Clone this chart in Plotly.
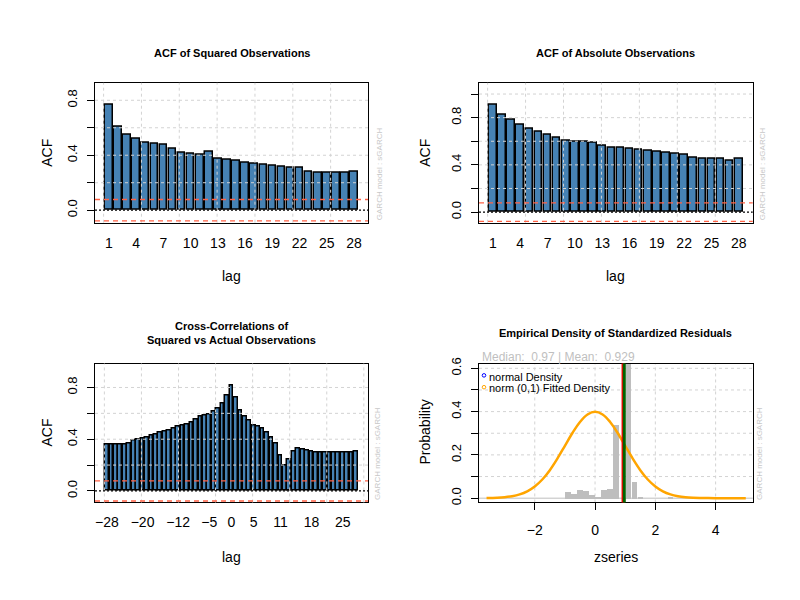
import plotly.graph_objects as go

# ---------------- data ----------------
lags = list(range(1, 29))
acf_sq = [0.764, 0.609, 0.549, 0.520, 0.492, 0.485, 0.477, 0.449, 0.420, 0.413,
          0.406, 0.427, 0.377, 0.363, 0.356, 0.348, 0.337, 0.329, 0.322, 0.315,
          0.308, 0.305, 0.277, 0.272, 0.272, 0.272, 0.272, 0.279]
acf_abs = [0.907, 0.823, 0.781, 0.739, 0.705, 0.680, 0.657, 0.629, 0.607, 0.598,
           0.598, 0.587, 0.565, 0.545, 0.545, 0.537, 0.528, 0.520, 0.511, 0.503,
           0.494, 0.489, 0.463, 0.455, 0.455, 0.447, 0.438, 0.447]
acf_ticks = [1, 4, 7, 10, 13, 16, 19, 22, 25, 28]

ccf_lags = list(range(-28, 29))
ccf_vals = [0.355, 0.355, 0.355, 0.362, 0.362, 0.370, 0.392, 0.400, 0.408, 0.415,
            0.430, 0.438, 0.453, 0.460, 0.468, 0.483, 0.498, 0.506, 0.513, 0.528,
            0.551, 0.574, 0.581, 0.589, 0.611, 0.634, 0.672, 0.740,
            0.815,
            0.725, 0.622, 0.577, 0.541, 0.508, 0.500, 0.483, 0.450, 0.409, 0.363,
            0.274, 0.193, 0.246, 0.302, 0.328, 0.320, 0.312, 0.302,
            0.295, 0.295, 0.295, 0.295, 0.295, 0.295, 0.295, 0.295, 0.295, 0.307]
ccf_ticks = [-28, -20, -12, -5, 0, 5, 11, 18, 25]
ci = 0.078

hist_mid = [-0.9, -0.7, -0.5, -0.3, -0.1, 0.1, 0.3, 0.5, 0.7, 0.9, 1.1, 1.3, 1.5, 2.5]
hist_dens = [0.031, 0.021, 0.040, 0.035, 0.017, 0.008, 0.040, 0.044, 0.342, 0.0,
             0.700, 0.078, 0.008, 0.004]
dens_x = [-3.6, -3.25, -3.0, -2.75, -2.5, -2.25, -2.0, -1.75, -1.5, -1.25, -1.0,
          -0.75, -0.5, -0.25, 0.0, 0.25, 0.5, 0.75, 1.0, 1.25, 1.5, 1.75, 2.0,
          2.25, 2.5, 2.75, 3.0, 3.25, 3.5, 3.75, 4.0, 4.25, 4.5, 4.75, 5.0]
dens_y = [0.0006, 0.0020, 0.0044, 0.0091, 0.0175, 0.0317, 0.0540, 0.0863, 0.1295,
          0.1827, 0.2420, 0.3011, 0.3521, 0.3867, 0.3989, 0.3867, 0.3521, 0.3011,
          0.2420, 0.1827, 0.1295, 0.0863, 0.0540, 0.0317, 0.0175, 0.0091, 0.0044,
          0.0020, 0.0009, 0.0004, 0.0001, 0.0001, 0.0, 0.0, 0.0]
median_val = 0.97
mean_val = 0.929

# ---------------- layout helpers ----------------
FONT = "Liberation Sans, Arial, sans-serif"
W, H = 800, 600


def px(x):
    return x / W


def py(y):
    return 1 - y / H


def dx(a, b):
    return [px(a), px(b)]


def dy(top, bottom):
    return [py(bottom), py(top)]


P = {
    1: dict(x=(95, 368), y=(78, 220)),
    2: dict(x=(479, 752.7), y=(78, 220)),
    3: dict(x=(95, 368), y=(363, 504)),
    4: dict(x=(479, 752.7), y=(363, 504)),
}

fig = go.Figure()

BAR = dict(color="#4682B4", line=dict(color="black", width=1.5))
bw = 1 / 1.2

fig.add_trace(go.Bar(x=lags, y=acf_sq, width=bw, marker=BAR, xaxis="x", yaxis="y", showlegend=False))
fig.add_trace(go.Bar(x=lags, y=acf_abs, width=bw, marker=BAR, xaxis="x2", yaxis="y2", showlegend=False))
fig.add_trace(go.Bar(x=ccf_lags, y=ccf_vals, width=bw, marker=BAR, xaxis="x3", yaxis="y3", showlegend=False))
fig.add_trace(go.Bar(x=hist_mid, y=hist_dens, width=0.18, marker=dict(color="#BEBEBE", line=dict(width=0)),
                     xaxis="x4", yaxis="y4", showlegend=False))
fig.add_trace(go.Scatter(x=dens_x, y=dens_y, mode="lines", line=dict(color="#FFA500", width=2.5, shape="spline"),
                         xaxis="x4", yaxis="y4", showlegend=False))

shapes = []
GRID = dict(color="#D3D3D3", width=1, dash="3px,3px")


def hline(k, yv, line, layer="above"):
    sx = "" if k == 1 else str(k)
    shapes.append(dict(type="line", xref=f"x{sx} domain", yref=f"y{sx}", x0=0, x1=1, y0=yv, y1=yv,
                       line=line, layer=layer))


def vline(k, xv, line, layer="above"):
    sx = "" if k == 1 else str(k)
    shapes.append(dict(type="line", xref=f"x{sx}", yref=f"y{sx} domain", x0=xv, x1=xv, y0=0, y1=1,
                       line=line, layer=layer))


# grids for ACF panels (barplot coordinates 0,5,10,... mapped to lag units)
acf_grid_x = [(b - 0.7) / 1.2 + 1 for b in range(0, 35, 5)]
ccf_grid_x = [(b - 0.7) / 1.2 - 28 for b in range(0, 75, 10)]
for k, gx, gy in [(1, acf_grid_x, [0.2, 0.4, 0.6, 0.8]),
                  (2, acf_grid_x, [0.2, 0.4, 0.6, 0.8, 1.0]),
                  (3, ccf_grid_x, [0.2, 0.4, 0.6, 0.8])]:
    for v in gx:
        vline(k, v, GRID)
    for v in gy:
        hline(k, v, GRID)
    hline(k, ci, dict(color="#FF6347", width=1.3, dash="5px,4px"))
    hline(k, -ci, dict(color="#FF6347", width=1.3, dash="5px,4px"))
    hline(k, 0, dict(color="black", width=1.3, dash="2px,2px"))

# panel 4 grid (below) + baseline + median/mean lines
for v in [-2, 0, 2, 4]:
    vline(4, v, GRID, layer="below")
for v in [0.1, 0.2, 0.3, 0.4, 0.5, 0.6]:
    hline(4, v, GRID, layer="below")
hline(4, 0, dict(color="#BEBEBE", width=1), layer="below")
vline(4, mean_val, dict(color="red", width=3))
vline(4, median_val, dict(color="#006400", width=3))

# legend circles in panel 4
for cy, col in [(375, "blue"), (387, "orange")]:
    shapes.append(dict(type="circle", xref="paper", yref="paper",
                       x0=px(482.2), x1=px(485.8), y0=py(cy + 1.8), y1=py(cy - 1.8),
                       line=dict(color=col, width=1)))

# ---------------- axes ----------------
def xaxis(k, rng, tickvals, ticktext=None, ticks=""):
    d = dict(domain=dx(*P[k]["x"]), range=rng, anchor="y" if k == 1 else f"y{k}",
             showline=True, linecolor="black", linewidth=1, mirror=True,
             showgrid=False, zeroline=False, tickvals=tickvals,
             tickfont=dict(size=14, color="black", family=FONT), fixedrange=True)
    if ticktext is not None:
        d["ticktext"] = ticktext
    if ticks:
        d.update(ticks="outside", ticklen=7, tickwidth=1, tickcolor="black", ticklabelstandoff=8)
    else:
        d.update(ticks="", ticklabelstandoff=7)
    return d


def yaxis(k, rng, tickvals, ticktext):
    return dict(domain=dy(*P[k]["y"]), range=rng, anchor="x" if k == 1 else f"x{k}",
                showline=True, linecolor="black", linewidth=1, mirror=True,
                showgrid=False, zeroline=False, tickvals=tickvals, ticktext=ticktext,
                ticks="outside", ticklen=7, tickwidth=1, tickcolor="black", tickangle=-90,
                ticklabelstandoff=5,
                tickfont=dict(size=13, color="black", family=FONT), fixedrange=True)


acf_rng = [-0.53, 29.53]
ccf_rng = [-30.69, 30.69]
fig.update_layout(
    xaxis=xaxis(1, acf_rng, acf_ticks),
    yaxis=yaxis(1, [-0.091, 0.927], [0, 0.2, 0.4, 0.6, 0.8], ["0.0", "", "0.4", "", "0.8"]),
    xaxis2=xaxis(2, acf_rng, acf_ticks),
    yaxis2=yaxis(2, [-0.09, 1.095], [0, 0.2, 0.4, 0.6, 0.8, 1.0], ["0.0", "", "0.4", "", "0.8", ""]),
    xaxis3=xaxis(3, ccf_rng, ccf_ticks),
    yaxis3=yaxis(3, [-0.089, 0.985], [0, 0.2, 0.4, 0.6, 0.8], ["0.0", "", "0.4", "", "0.8"]),
    xaxis4=xaxis(4, [-3.85, 5.23], [-2, 0, 2, 4], ticks="outside"),
    yaxis4=yaxis(4, [-0.0197, 0.622], [0, 0.1, 0.2, 0.3, 0.4, 0.5, 0.6],
                 ["0.0", "", "0.2", "", "0.4", "", "0.6"]),
)

# ---------------- text ----------------
ann = []


def text(x, y, s, size=14, bold=False, angle=0, color="black", xa="center", ya="middle"):
    if bold:
        s = f"<b>{s}</b>"
    ann.append(dict(x=px(x), y=py(y), xref="paper", yref="paper", text=s, showarrow=False,
                    textangle=angle, xanchor=xa, yanchor=ya,
                    font=dict(size=size, color=color, family=FONT)))


text(231.5, 48, "ACF of Squared Observations", size=11, bold=True)
text(615.8, 48, "ACF of Absolute Observations", size=11, bold=True)
text(231.5, 325, "Cross-Correlations of", size=11, bold=True)
text(231.5, 338.6, "Squared vs Actual Observations", size=11, bold=True)
text(615.8, 331.5, "Empirical Density of Standardized Residuals", size=11, bold=True)

text(47, 149, "ACF", angle=-90)
text(231.5, 274, "lag")
text(425, 149, "ACF", angle=-90)
text(615.8, 274, "lag")
text(47, 433, "ACF", angle=-90)
text(231.5, 559, "lag")
text(425, 433, "Probability", angle=-90)
text(615.8, 559, "zseries")

wm = "GARCH model : sGARCH"
for x, yb in [(379, 220), (762, 220), (378, 504), (760, 504)]:
    text(x, yb, wm, size=8, angle=-90, color="#C8C8C8", ya="bottom")

text(480, 356.5, f"Median:  {median_val} | Mean:  {mean_val}", size=12, color="#BFBFBF", xa="left")
text(487, 376.5, "normal Density", size=11, xa="left")
text(487, 388, "norm (0,1) Fitted Density", size=11, xa="left")

fig.update_layout(
    width=W, height=H, autosize=False,
    margin=dict(l=0, r=0, t=0, b=0),
    paper_bgcolor="white", plot_bgcolor="white",
    bargap=0, barmode="overlay",
    shapes=shapes, annotations=ann,
    font=dict(family=FONT),
    showlegend=False,
)

fig.write_html("out.html")
